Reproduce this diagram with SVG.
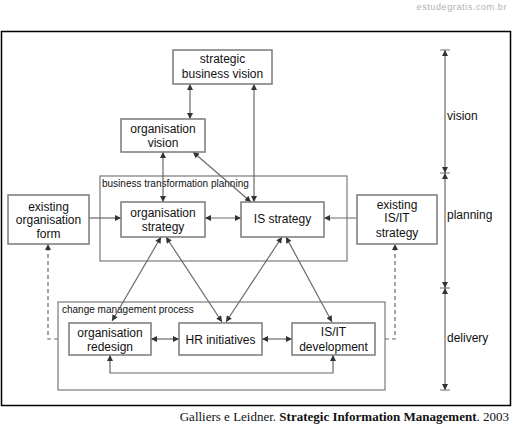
<svg xmlns="http://www.w3.org/2000/svg" width="512" height="428" viewBox="0 0 512 428">
<style>
.box{fill:#fff;stroke:#7a7a7a;stroke-width:1.5}
.cont{fill:none;stroke:#7a7a7a;stroke-width:1.2}
.t{font-family:"Liberation Sans",Arial,sans-serif;font-size:12px;fill:#111;text-anchor:middle}
.lbl{font-family:"Liberation Sans",Arial,sans-serif;font-size:10px;fill:#111}
.side{font-family:"Liberation Sans",Arial,sans-serif;font-size:12px;fill:#111}
.c{fill:none;stroke:#6a6a6a;stroke-width:1.2}
.both{marker-start:url(#ah);marker-end:url(#ah)}
.end{marker-end:url(#ah)}
.dash{stroke-dasharray:4 3}
.tick{stroke:#888;stroke-width:1.2}
</style>
<defs>
<marker id="ah" viewBox="0 0 10 10" refX="10" refY="5" markerWidth="7" markerHeight="6" markerUnits="userSpaceOnUse" orient="auto-start-reverse">
<path d="M0,0 L10,5 L0,10 z" fill="#333"/>
</marker>
</defs>
<rect x="0" y="0" width="512" height="428" fill="#fff"/>
<text x="507" y="10" font-family="'Liberation Sans',Arial,sans-serif" font-size="9" letter-spacing="0.6" fill="#b0b0b0" text-anchor="end">estudegratis.com.br</text>
<rect x="1.5" y="31.5" width="509" height="374" fill="#fff" stroke="#000" stroke-width="1.5"/>

<g id="containers">
<rect id="btp" class="cont" x="100" y="176" width="247" height="85"/>
<text class="lbl" x="102" y="187">business transformation planning</text>
<rect id="cmp" class="cont" x="58" y="302" width="327" height="88"/>
<text class="lbl" x="62" y="313">change management process</text>
</g>

<g id="connectors">
<line class="c both" x1="190" y1="84" x2="190" y2="119"/>
<line class="c both" x1="254" y1="84" x2="254" y2="202"/>
<line class="c both" x1="163" y1="152" x2="163" y2="202"/>
<line class="c both" x1="193" y1="152" x2="251" y2="202"/>
<line class="c end" x1="89" y1="218" x2="121" y2="218"/>
<line class="c both" x1="205" y1="218" x2="241" y2="218"/>
<line class="c end" x1="357" y1="218" x2="324" y2="218"/>
<line class="c both" x1="161" y1="237" x2="112" y2="321"/>
<line class="c both" x1="166" y1="237" x2="222" y2="322"/>
<line class="c both" x1="282" y1="237" x2="226" y2="322"/>
<line class="c both" x1="286" y1="237" x2="332" y2="322"/>
<line class="c both" x1="151" y1="339" x2="179" y2="339"/>
<line class="c both" x1="262" y1="339" x2="292" y2="339"/>
<polyline class="c both" points="110,355 110,373 333,373 333,355"/>
<polyline class="c end dash" points="58,339 48,339 48,244"/>
<polyline class="c end dash" points="385,339 395,339 395,244"/>
</g>

<g id="sbv"><rect class="box" x="173" y="50" width="99" height="34"/>
<text class="t" x="222.5" y="63">strategic</text><text class="t" x="222.5" y="78">business vision</text></g>
<g id="ov"><rect class="box" x="121" y="119" width="84" height="33"/>
<text class="t" x="163" y="133">organisation</text><text class="t" x="163" y="147">vision</text></g>
<g id="os"><rect class="box" x="121" y="202" width="84" height="35"/>
<text class="t" x="163" y="217">organisation</text><text class="t" x="163" y="231">strategy</text></g>
<g id="iss"><rect class="box" x="241" y="202" width="83" height="35"/>
<text class="t" x="282.5" y="223">IS strategy</text></g>
<g id="eof"><rect class="box" x="8" y="195" width="81" height="49"/>
<text class="t" x="48.5" y="211">existing</text><text class="t" x="48.5" y="224">organisation</text><text class="t" x="48.5" y="238">form</text></g>
<g id="eis"><rect class="box" x="357" y="195" width="80" height="49"/>
<text class="t" x="397" y="209">existing</text><text class="t" x="397" y="222">IS/IT</text><text class="t" x="397" y="237">strategy</text></g>
<g id="ord"><rect class="box" x="69" y="323" width="82" height="32"/>
<text class="t" x="110" y="337">organisation</text><text class="t" x="110" y="351">redesign</text></g>
<g id="hr"><rect class="box" x="179" y="323" width="83" height="32"/>
<text class="t" x="220.5" y="344">HR initiatives</text></g>
<g id="isd"><rect class="box" x="292" y="323" width="83" height="32"/>
<text class="t" x="333.5" y="336">IS/IT</text><text class="t" x="333.5" y="351">development</text></g>

<g id="scale">
<line class="tick" x1="440" y1="50" x2="450" y2="50"/>
<line class="tick" x1="440" y1="173" x2="450" y2="173"/>
<line class="tick" x1="440" y1="288" x2="450" y2="288"/>
<line class="tick" x1="440" y1="390" x2="450" y2="390"/>
<line class="c both" x1="445" y1="50" x2="445" y2="173"/>
<line class="c both" x1="445" y1="173" x2="445" y2="288"/>
<line class="c both" x1="445" y1="288" x2="445" y2="390"/>
<text class="side" x="447" y="120">vision</text>
<text class="side" x="447" y="219">planning</text>
<text class="side" x="447" y="342">delivery</text>
</g>

<text x="509" y="421" font-family="'Liberation Serif','Times New Roman',serif" font-size="13" fill="#111" text-anchor="end">Galliers e Leidner. <tspan font-weight="bold">Strategic Information Management</tspan>. 2003</text>
</svg>
